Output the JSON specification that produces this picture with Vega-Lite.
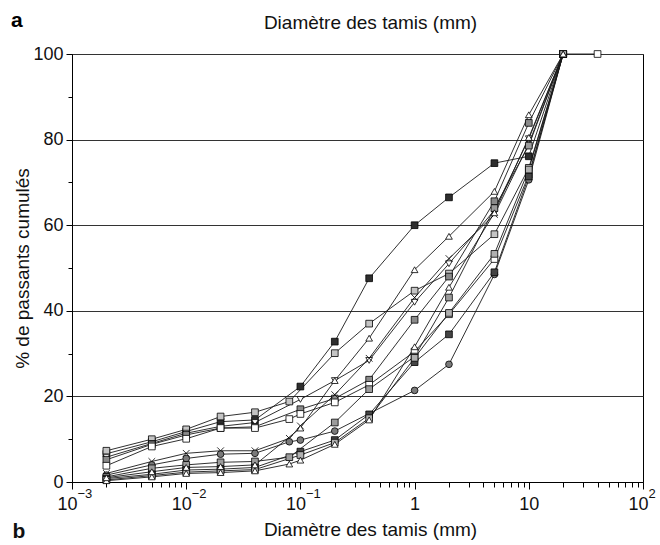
{
  "$schema": "https://vega.github.io/schema/vega-lite/v6.json",
  "width": 571,
  "height": 428,
  "autosize": "none",
  "padding": {"left": 72, "top": 54, "right": 17, "bottom": 63},
  "background": "white",
  "title": {"text": "a", "anchor": "start", "frame": "group", "dx": -61, "offset": -18, "fontSize": 21, "fontWeight": "bold", "font": "Liberation Sans", "color": "#000"},
  "data": {"values": [
    {"s": "A", "d": 0.002, "p": 6.6}, {"s": "A", "d": 0.005, "p": 9.4}, {"s": "A", "d": 0.01, "p": 11.8}, {"s": "A", "d": 0.02, "p": 14.1}, {"s": "A", "d": 0.04, "p": 14.5}, {"s": "A", "d": 0.1, "p": 22.3}, {"s": "A", "d": 0.2, "p": 32.8}, {"s": "A", "d": 0.4, "p": 47.6}, {"s": "A", "d": 1, "p": 60.0}, {"s": "A", "d": 2, "p": 66.5}, {"s": "A", "d": 5, "p": 74.5}, {"s": "A", "d": 10, "p": 76.1}, {"s": "A", "d": 20, "p": 100},
    {"s": "B", "d": 0.002, "p": 7.3}, {"s": "B", "d": 0.005, "p": 10.0}, {"s": "B", "d": 0.01, "p": 12.3}, {"s": "B", "d": 0.02, "p": 15.3}, {"s": "B", "d": 0.04, "p": 16.3}, {"s": "B", "d": 0.08, "p": 18.8}, {"s": "B", "d": 0.2, "p": 30.1}, {"s": "B", "d": 0.4, "p": 37.0}, {"s": "B", "d": 1, "p": 44.7}, {"s": "B", "d": 2, "p": 48.7}, {"s": "B", "d": 5, "p": 57.9}, {"s": "B", "d": 10, "p": 73.4}, {"s": "B", "d": 20, "p": 100},
    {"s": "C", "d": 0.002, "p": 5.8}, {"s": "C", "d": 0.005, "p": 9.0}, {"s": "C", "d": 0.01, "p": 11.4}, {"s": "C", "d": 0.02, "p": 13.0}, {"s": "C", "d": 0.04, "p": 13.9}, {"s": "C", "d": 0.1, "p": 19.3}, {"s": "C", "d": 0.2, "p": 23.7}, {"s": "C", "d": 0.4, "p": 28.4}, {"s": "C", "d": 1, "p": 42.0}, {"s": "C", "d": 2, "p": 51.0}, {"s": "C", "d": 5, "p": 63.5}, {"s": "C", "d": 10, "p": 80.2}, {"s": "C", "d": 20, "p": 100},
    {"s": "D", "d": 0.002, "p": 5.2}, {"s": "D", "d": 0.005, "p": 8.8}, {"s": "D", "d": 0.01, "p": 11.0}, {"s": "D", "d": 0.02, "p": 12.6}, {"s": "D", "d": 0.04, "p": 12.9}, {"s": "D", "d": 0.1, "p": 17.0}, {"s": "D", "d": 0.2, "p": 19.5}, {"s": "D", "d": 0.4, "p": 23.9}, {"s": "D", "d": 1, "p": 37.9}, {"s": "D", "d": 2, "p": 48.0}, {"s": "D", "d": 5, "p": 65.6}, {"s": "D", "d": 10, "p": 83.9}, {"s": "D", "d": 20, "p": 100},
    {"s": "E", "d": 0.002, "p": 3.8}, {"s": "E", "d": 0.005, "p": 8.3}, {"s": "E", "d": 0.01, "p": 10.1}, {"s": "E", "d": 0.02, "p": 12.6}, {"s": "E", "d": 0.04, "p": 12.6}, {"s": "E", "d": 0.08, "p": 14.7}, {"s": "E", "d": 0.1, "p": 15.9}, {"s": "E", "d": 0.2, "p": 18.6}, {"s": "E", "d": 0.4, "p": 22.7}, {"s": "E", "d": 1, "p": 30.5}, {"s": "E", "d": 2, "p": 39.2}, {"s": "E", "d": 5, "p": 52.1}, {"s": "E", "d": 10, "p": 71.8}, {"s": "E", "d": 20, "p": 100}, {"s": "E", "d": 40, "p": 100},
    {"s": "F", "d": 0.002, "p": 2.0}, {"s": "F", "d": 0.005, "p": 4.8}, {"s": "F", "d": 0.01, "p": 6.7}, {"s": "F", "d": 0.02, "p": 7.3}, {"s": "F", "d": 0.04, "p": 7.3}, {"s": "F", "d": 0.08, "p": 10.2}, {"s": "F", "d": 0.1, "p": 13.1}, {"s": "F", "d": 0.2, "p": 20.4}, {"s": "F", "d": 0.4, "p": 28.9}, {"s": "F", "d": 1, "p": 43.1}, {"s": "F", "d": 2, "p": 52.2}, {"s": "F", "d": 5, "p": 62.5}, {"s": "F", "d": 10, "p": 79.0}, {"s": "F", "d": 20, "p": 100},
    {"s": "G", "d": 0.002, "p": 1.6}, {"s": "G", "d": 0.005, "p": 4.0}, {"s": "G", "d": 0.01, "p": 5.5}, {"s": "G", "d": 0.02, "p": 6.5}, {"s": "G", "d": 0.04, "p": 6.7}, {"s": "G", "d": 0.08, "p": 9.4}, {"s": "G", "d": 0.1, "p": 9.8}, {"s": "G", "d": 0.2, "p": 11.9}, {"s": "G", "d": 1, "p": 21.4}, {"s": "G", "d": 2, "p": 27.5}, {"s": "G", "d": 5, "p": 48.5}, {"s": "G", "d": 10, "p": 70.6}, {"s": "G", "d": 20, "p": 100},
    {"s": "H", "d": 0.002, "p": 1.2}, {"s": "H", "d": 0.005, "p": 3.2}, {"s": "H", "d": 0.01, "p": 4.0}, {"s": "H", "d": 0.02, "p": 4.6}, {"s": "H", "d": 0.04, "p": 4.8}, {"s": "H", "d": 0.08, "p": 5.8}, {"s": "H", "d": 0.2, "p": 13.9}, {"s": "H", "d": 0.4, "p": 21.7}, {"s": "H", "d": 1, "p": 29.3}, {"s": "H", "d": 2, "p": 43.1}, {"s": "H", "d": 5, "p": 64.0}, {"s": "H", "d": 10, "p": 78.6}, {"s": "H", "d": 20, "p": 100},
    {"s": "I", "d": 0.002, "p": 0.8}, {"s": "I", "d": 0.005, "p": 1.8}, {"s": "I", "d": 0.01, "p": 2.8}, {"s": "I", "d": 0.02, "p": 3.0}, {"s": "I", "d": 0.04, "p": 3.4}, {"s": "I", "d": 0.1, "p": 7.1}, {"s": "I", "d": 0.2, "p": 9.8}, {"s": "I", "d": 0.4, "p": 15.8}, {"s": "I", "d": 1, "p": 28.0}, {"s": "I", "d": 2, "p": 34.5}, {"s": "I", "d": 5, "p": 49.0}, {"s": "I", "d": 10, "p": 71.4}, {"s": "I", "d": 20, "p": 100},
    {"s": "J", "d": 0.002, "p": 0.5}, {"s": "J", "d": 0.005, "p": 1.5}, {"s": "J", "d": 0.01, "p": 2.3}, {"s": "J", "d": 0.02, "p": 2.6}, {"s": "J", "d": 0.04, "p": 2.9}, {"s": "J", "d": 0.1, "p": 6.3}, {"s": "J", "d": 0.2, "p": 9.2}, {"s": "J", "d": 0.4, "p": 14.9}, {"s": "J", "d": 1, "p": 29.0}, {"s": "J", "d": 2, "p": 39.5}, {"s": "J", "d": 5, "p": 53.3}, {"s": "J", "d": 10, "p": 73.0}, {"s": "J", "d": 20, "p": 100},
    {"s": "K", "d": 0.002, "p": 0.3}, {"s": "K", "d": 0.005, "p": 1.2}, {"s": "K", "d": 0.01, "p": 2.0}, {"s": "K", "d": 0.02, "p": 2.2}, {"s": "K", "d": 0.04, "p": 2.6}, {"s": "K", "d": 0.08, "p": 4.2}, {"s": "K", "d": 0.1, "p": 5.1}, {"s": "K", "d": 0.2, "p": 8.8}, {"s": "K", "d": 0.4, "p": 14.5}, {"s": "K", "d": 1, "p": 31.6}, {"s": "K", "d": 2, "p": 45.5}, {"s": "K", "d": 5, "p": 62.9}, {"s": "K", "d": 10, "p": 80.5}, {"s": "K", "d": 20, "p": 100},
    {"s": "L", "d": 0.002, "p": 1.0}, {"s": "L", "d": 0.005, "p": 2.4}, {"s": "L", "d": 0.01, "p": 3.4}, {"s": "L", "d": 0.02, "p": 3.6}, {"s": "L", "d": 0.04, "p": 4.0}, {"s": "L", "d": 0.1, "p": 12.6}, {"s": "L", "d": 0.2, "p": 23.7}, {"s": "L", "d": 0.4, "p": 33.6}, {"s": "L", "d": 1, "p": 49.6}, {"s": "L", "d": 2, "p": 57.4}, {"s": "L", "d": 5, "p": 67.9}, {"s": "L", "d": 10, "p": 85.8}, {"s": "L", "d": 20, "p": 100}
  ]},
  "resolve": {"axis": {"x": "independent", "y": "independent"}},
  "layer": [
    {
      "mark": {"type": "line", "color": "#1a1a1a", "strokeWidth": 0.9},
      "encoding": {
        "x": {"field": "d", "type": "quantitative",
          "scale": {"type": "log", "domain": [0.001, 100], "nice": false},
          "axis": {"orient": "bottom", "title": "Diamètre des tamis (mm)",
            "values": [0.001,0.002,0.003,0.004,0.005,0.006,0.007,0.008,0.009,0.01,0.02,0.03,0.04,0.05,0.06,0.07,0.08,0.09,0.1,0.2,0.3,0.4,0.5,0.6,0.7,0.8,0.9,1,2,3,4,5,6,7,8,9,10,20,30,40,50,60,70,80,90,100],
            "labelExpr": "indexof([0.001,0.01,0.1,10,100], datum.value) >= 0 ? '10' : datum.value == 1 ? '1' : ''",
            "labelOffset": {"condition": {"test": "indexof([0.001,0.01,0.1,100], datum.value) >= 0", "value": -5}, "value": 0},
            "labelOverlap": false, "labelFlush": false, "labelFontSize": 18, "labelPadding": 6,
            "tickSize": {"condition": {"test": "indexof([0.001,0.01,0.1,1,10,100], datum.value) >= 0", "value": 7}, "value": 5},
            "grid": false, "titleFontSize": 19, "titleX": 298, "titleY": 53, "titleBaseline": "alphabetic", "titleAlign": "center"}},
        "y": {"field": "p", "type": "quantitative",
          "scale": {"domain": [0, 100], "nice": false},
          "axis": {"orient": "left", "title": "% de passants cumulés",
            "values": [0,10,20,30,40,50,60,70,80,90,100],
            "labelExpr": "datum.value % 20 == 0 ? datum.label : ''",
            "labelFontSize": 18, "labelPadding": 3,
            "tickSize": {"condition": {"test": "datum.value % 20 == 0", "value": 6}, "value": 4},
            "grid": true, "gridColor": "#333", "gridWidth": 1,
            "gridOpacity": {"condition": {"test": "datum.value % 20 == 0", "value": 1}, "value": 0},
            "titleFontSize": 19, "titleX": -50, "titleBaseline": "middle"}},
        "detail": {"field": "s", "type": "nominal"}
      }
    },
    {
      "mark": {"type": "point", "filled": true, "stroke": "#000", "strokeWidth": 0.8, "size": 45, "opacity": 1},
      "encoding": {
        "x": {"field": "d", "type": "quantitative",
          "axis": {"orient": "top", "title": "Diamètre des tamis (mm)", "labels": false, "ticks": false, "domain": false, "grid": false,
            "titleFontSize": 19, "titleX": 298, "titleY": -26, "titleBaseline": "alphabetic", "titleAlign": "center"}},
        "y": {"field": "p", "type": "quantitative",
          "axis": {"orient": "right", "title": "b", "labels": false, "ticks": false, "domain": false, "grid": false,
            "titleFontSize": 21, "titleFontWeight": "bold", "titleAngle": 0, "titleX": -631, "titleY": 483, "titleAlign": "left", "titleBaseline": "alphabetic"}},
        "shape": {"field": "s", "type": "nominal", "legend": null,
          "scale": {"domain": ["A","B","C","D","E","F","G","H","I","J","K","L"],
            "range": ["square","square","triangle-down","square","square","M-1,-1L1,1M1,-1L-1,1","circle","square","square","square","triangle-up","triangle-up"]}},
        "fill": {"field": "s", "type": "nominal", "legend": null,
          "scale": {"domain": ["A","B","C","D","E","F","G","H","I","J","K","L"],
            "range": ["#2e2e2e","#c4c4c4","#ffffff","#8a8a8a","#ffffff","#ffffff","#7a7a7a","#9c9c9c","#444444","#b0b0b0","#ffffff","#ffffff"]}}
      }
    },
    {
      "mark": {"type": "point", "opacity": 0},
      "encoding": {
        "x": {"field": "d", "type": "quantitative",
          "axis": {"orient": "bottom", "title": null, "ticks": false, "domain": false, "grid": false,
            "values": [0.001, 0.01, 0.1, 100],
            "labelExpr": "datum.value == 0.001 ? '−3' : datum.value == 0.01 ? '−2' : datum.value == 0.1 ? '−1' : '2'",
            "labelOverlap": false, "labelFlush": false, "labelFontSize": 13, "labelAlign": "left", "labelOffset": 5, "labelBaseline": "top", "labelPadding": 5}},
        "y": {"field": "p", "type": "quantitative", "axis": null}
      }
    }
  ],
  "config": {
    "font": "Liberation Sans",
    "view": {"stroke": "#000", "strokeWidth": 1},
    "axis": {"labelFont": "Liberation Sans", "titleFont": "Liberation Sans", "labelColor": "#111", "titleColor": "#111", "domainColor": "#000", "tickColor": "#000", "titleFontWeight": "normal", "domainWidth": 1, "tickWidth": 1}
  }
}
